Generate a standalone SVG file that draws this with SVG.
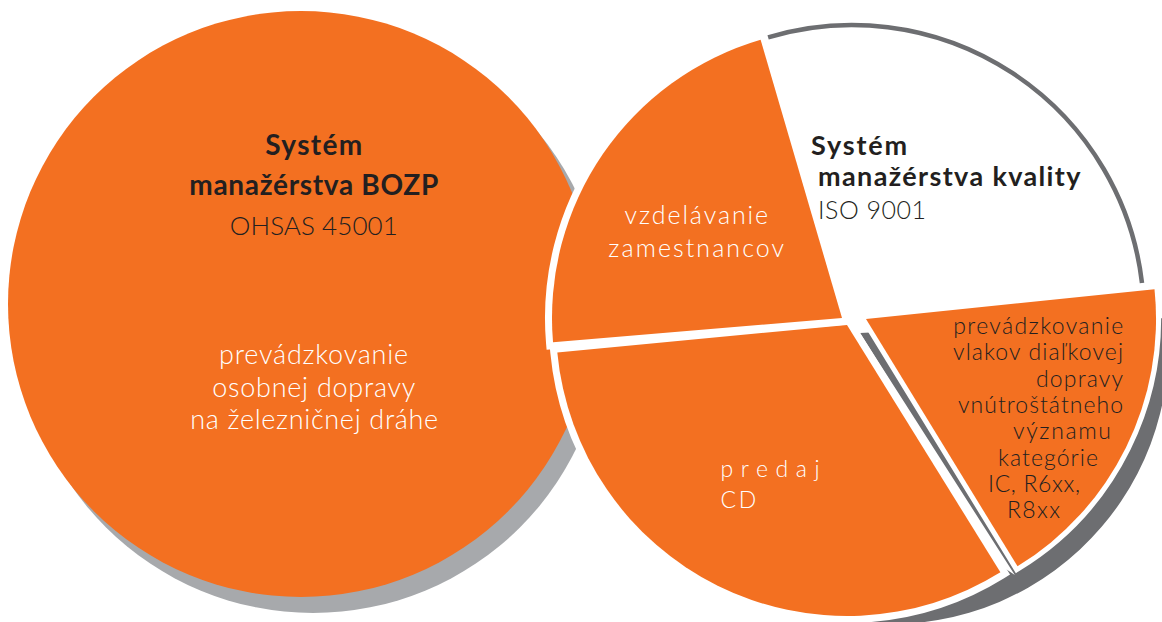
<svg xmlns="http://www.w3.org/2000/svg" width="1162" height="622" viewBox="0 0 1162 622">
<defs>
<style>
.org{fill:#f37021}
.slice{fill:#f37021;stroke:#ffffff;paint-order:stroke;stroke-linejoin:miter}
.t{font-family:Lato,"Open Sans","Liberation Sans",sans-serif}
.b{font-weight:700;fill:#231f20}
.l{font-weight:300}
.dk{fill:#231f20}
.wh{fill:#ffffff}
.mid{text-anchor:middle}
</style>
</defs>
<rect width="1162" height="622" fill="#ffffff"/>
<g id="bozp">
<circle cx="313" cy="320" r="293" fill="#a7a9ac"/>
<circle cx="301" cy="304" r="293" class="org"/>
<text x="313.8" y="155" class="t b mid" font-size="28" textLength="97">Systém</text>
<text x="313.8" y="195" class="t b mid" font-size="28" textLength="249">manažérstva BOZP</text>
<text x="313.8" y="235" class="t l dk mid" font-size="26" textLength="168">OHSAS 45001</text>
<text x="313.6" y="364" class="t l wh mid" font-size="27" textLength="189">prevádzkovanie</text>
<text x="313.8" y="397" class="t l wh mid" font-size="27" textLength="203">osobnej dopravy</text>
<text x="314.2" y="428.6" class="t l wh mid" font-size="27" textLength="248">na železničnej dráhe</text>
</g>
<g id="pie-shadow">
<path d="M860,333 L1167,318 A278,278 0 0 1 842.2,619.9 L985,555 L1014.8,575 Z" fill="#6d6e71"/>
</g>
<g id="predaj">
<path class="slice" stroke-width="14" d="M847,325 L1000.4,572.3 A291,291 0 0 1 557.3,352.4 Z"/>
<text x="720.6" y="476.7" class="t l wh" font-size="23" textLength="99">predaj</text>
<text x="720.6" y="508.3" class="t l wh" font-size="23" textLength="35.7">CD</text>
</g>
<g id="prevadzkovanie-vlakov">
<path class="slice" stroke-width="10" d="M866,319 L1154.5,289.2 A290,290 0 0 1 1017.5,566.3 Z"/>
<text x="953.3" y="334" class="t l dk" font-size="23" textLength="170">prevádzkovanie</text>
<text x="953" y="360.3" class="t l dk" font-size="23" textLength="170">vlakov diaľkovej</text>
<text x="1036" y="386.6" class="t l dk" font-size="23" textLength="87">dopravy</text>
<text x="958" y="413" class="t l dk" font-size="23" textLength="165">vnútroštátneho</text>
<text x="1013" y="439.3" class="t l dk" font-size="23" textLength="98">významu</text>
<text x="998" y="465.6" class="t l dk" font-size="23" textLength="100">kategórie</text>
<text x="988" y="492" class="t l dk" font-size="23" textLength="92">IC, R6xx,</text>
<text x="1007" y="518.3" class="t l dk" font-size="23" textLength="53">R8xx</text>
</g>
<g id="vzdelavanie">
<path class="slice" stroke-width="14" d="M842,318 L553,342.3 A290,290 0 0 1 760.6,39.7 Z"/>
<text x="696.3" y="224" class="t l wh mid" font-size="25" textLength="143.7">vzdelávanie</text>
<text x="696.2" y="256.7" class="t l wh mid" font-size="25" textLength="175.7">zamestnancov</text>
</g>
<g id="kvalita">
<path d="M852,317 L768.1,37.3 A292,292 0 0 1 1142,282.9 Z" fill="#ffffff"/>
<path d="M768.1,37.3 A292,292 0 0 1 1142,282.9" fill="none" stroke="#6d6e71" stroke-width="4.5"/>
<text x="811" y="154.5" class="t b" font-size="27" textLength="96">Systém</text>
<text x="818" y="186" class="t b" font-size="27" textLength="262.5">manažérstva kvality</text>
<text x="818" y="218.5" class="t l dk" font-size="25" textLength="108">ISO 9001</text>
</g>
</svg>
